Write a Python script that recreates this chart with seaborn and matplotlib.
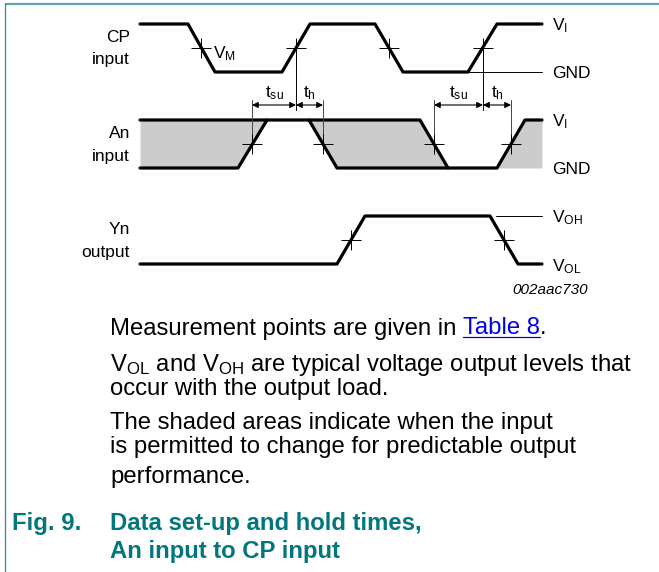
import matplotlib
matplotlib.use('Agg')
import matplotlib.pyplot as plt
import seaborn as sns

# Timing diagram drawn in the reference's own pixel grid (x right, y down)

# signal levels (rows)
CP_HI, CP_LO = 24, 72
AN_HI, AN_LO = 120, 168
YN_HI, YN_LO = 216, 264

# CP input waveform
cp_x = [140, 188, 215, 282, 310, 375, 403, 468, 497, 542]
cp_y = [CP_HI, CP_HI, CP_LO, CP_LO, CP_HI, CP_HI, CP_LO, CP_LO, CP_HI, CP_HI]

# An input: the edges making up the data window
an_top_x = [140, 420, 448, 497, 525, 542]
an_top_y = [AN_HI, AN_HI, AN_LO, AN_LO, AN_HI, AN_HI]
an_rise_x = [140, 238, 267]
an_rise_y = [AN_LO, AN_LO, AN_HI]
an_fall_x = [309, 337, 448]
an_fall_y = [AN_HI, AN_LO, AN_LO]

# shaded "may change" regions of An
shade_x = [[140, 238, 267], [309, 337, 420, 448], [497, 525, 542]]
shade_top = [[AN_HI, AN_HI, AN_HI], [AN_HI, AN_HI, AN_HI, AN_LO], [AN_LO, AN_HI, AN_HI]]
shade_bot = [[AN_LO, AN_LO, AN_HI], [AN_HI, AN_LO, AN_LO, AN_LO], [AN_LO, AN_LO, AN_LO]]

# Yn output waveform
yn_x = [140, 337, 365, 490, 518, 542]
yn_y = [YN_LO, YN_LO, YN_HI, YN_HI, YN_LO, YN_LO]

# V_M measurement points
vm_x = [201, 296, 389, 483, 252, 323, 434, 511, 351, 504]
vm_y = [48, 48, 48, 48, 144, 144, 144, 144, 240, 240]

# setup / hold timing markers
clk_edges = [296, 483]
su_start = [252, 434]
h_end = [323, 511]
ARROW_Y = 105

# text
left_labels = [("CP", 42), ("input", 64), ("An", 138), ("input", 161),
               ("Yn", 234), ("output", 257)]
right_labels = [(r"$\mathregular{V_I}$", 30), ("GND", 78), (r"$\mathregular{V_I}$", 126),
                ("GND", 174), (r"$\mathregular{V_{OH}}$", 222), (r"$\mathregular{V_{OL}}$", 271)]
note_lines = [
    (r"$\mathregular{V_{OL}}$ and $\mathregular{V_{OH}}$ are typical voltage output levels that", 370.5),
    ("occur with the output load.", 394.5),
    ("The shaded areas indicate when the input", 429),
    ("is permitted to change for predictable output", 453.5),
    ("performance.", 483.5),
]
TEAL = "#00777d"
BODY = 17.2
CAPTION = 17.2

sns.set_style("white")
plt.rcParams['font.family'] = ['Liberation Sans', 'DejaVu Sans']
plt.rcParams['mathtext.fontset'] = 'custom'
plt.rcParams['mathtext.rm'] = 'Liberation Sans'
plt.rcParams['mathtext.it'] = 'Liberation Sans:italic'
plt.rcParams['text.color'] = 'black'

fig = plt.figure(figsize=(6.59, 5.72), dpi=100)
ax = fig.add_axes([0, 0, 1, 1])
ax.set_xlim(0, 659)
ax.set_ylim(572, 0)
ax.axis('off')

# frame
ax.plot([5, 659], [4, 4], color="#5aa6ab", lw=1.6, solid_capstyle='butt')
ax.plot([5, 5], [4, 572], color="#2a8a90", lw=0.9)

# shading
for xs, t, b in zip(shade_x, shade_top, shade_bot):
    ax.fill_between(xs, t, b, color="#cccccc", lw=0)

thick = dict(color='black', lw=2.3, sort=False, estimator=None, legend=False, ax=ax)
sns.lineplot(x=cp_x, y=cp_y, **thick)
sns.lineplot(x=an_top_x, y=an_top_y, **thick)
sns.lineplot(x=an_rise_x, y=an_rise_y, **thick)
sns.lineplot(x=an_fall_x, y=an_fall_y, **thick)
sns.lineplot(x=yn_x, y=yn_y, **thick)

thin = dict(color='black', lw=0.7)
# reference level lines
ax.plot([468, 542], [CP_LO, CP_LO], **thin)
ax.plot([496, 542], [YN_HI, YN_HI], **thin)
# vertical reference lines
for x in clk_edges:
    ax.plot([x, x], [48, 110], **thin)
for x in su_start + h_end:
    ax.plot([x, x], [100, 152], color='#444444', lw=0.7)

sns.scatterplot(x=vm_x, y=vm_y, marker='+', s=200, color='black', linewidth=0.7, ax=ax, zorder=5)

# arrows
arrow = dict(arrowstyle='<|-|>', color='black', lw=0.8, mutation_scale=9,
             shrinkA=0, shrinkB=0)
for a, c, b in zip(su_start, clk_edges, h_end):
    ax.annotate("", xy=(a, ARROW_Y), xytext=(c, ARROW_Y), arrowprops=arrow)
    ax.annotate("", xy=(c, ARROW_Y), xytext=(b, ARROW_Y), arrowprops=arrow)
    ax.text((a + c) / 2, 97, r"$\mathregular{t_{su}}$", ha='center', va='baseline', fontsize=12.5)
    ax.text((c + b) / 2, 97, r"$\mathregular{t_h}$", ha='center', va='baseline', fontsize=12.5)

ax.text(213, 58, r"$\mathregular{V_M}$", ha='left', va='baseline', fontsize=12.5)

for s, y in left_labels:
    ax.text(130, y, s, ha='right', va='baseline', fontsize=12.5)
for s, y in right_labels:
    ax.text(552, y, s, ha='left', va='baseline', fontsize=12.5)
ax.text(588, 294, "002aac730", ha='right', va='baseline', fontsize=11, style='italic')

# notes
t1 = ax.text(110, 334.5, "Measurement points are given in ", ha='left', va='baseline', fontsize=BODY)
fig.canvas.draw()
bb = t1.get_window_extent().transformed(ax.transData.inverted())
t2 = ax.text(bb.x1, 334.5, "Table 8", ha='left', va='baseline', fontsize=BODY, color='#0000ee')
fig.canvas.draw()
bb2 = t2.get_window_extent().transformed(ax.transData.inverted())
ax.plot([bb2.x0, bb2.x1], [337, 337], color='#0000ee', lw=0.9)
ax.text(bb2.x1, 334.5, ".", ha='left', va='baseline', fontsize=BODY)
for s, y in note_lines:
    ax.text(110, y, s, ha='left', va='baseline', fontsize=BODY)

ax.text(12, 530, "Fig. 9.", ha='left', va='baseline', fontsize=CAPTION, weight='bold', color=TEAL)
ax.text(110, 530, "Data set-up and hold times,", ha='left', va='baseline', fontsize=CAPTION,
        weight='bold', color=TEAL)
ax.text(110, 558, "An input to CP input", ha='left', va='baseline', fontsize=CAPTION,
        weight='bold', color=TEAL)

fig.savefig("out.png", dpi=100)
